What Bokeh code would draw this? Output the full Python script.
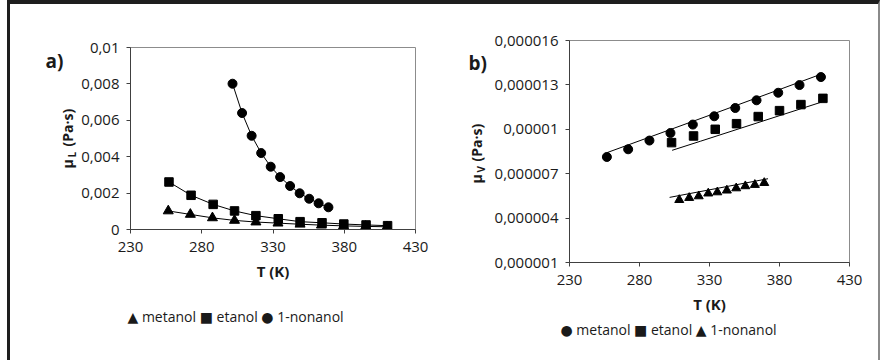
import math
from bokeh.plotting import figure
from bokeh.layouts import row, column
from bokeh.models import Label, FixedTicker, Range1d, Title
from bokeh.embed import file_html
from bokeh.resources import INLINE

# ---------------- data ----------------
x_ticks = [230, 280, 330, 380, 430]

# (a) liquid viscosity
T_me_L = [256.5, 272, 287.5, 303, 318, 333.5, 349, 364, 379.5, 395, 410]
mu_me_L = [0.00102, 0.00083, 0.00064, 0.00050, 0.00041, 0.00035, 0.00029, 0.00024, 0.00020, 0.00017, 0.00015]
T_et_L = [257, 272.5, 288, 303, 318, 333.7, 349, 364.4, 379.7, 395.3, 410.4]
mu_et_L = [0.00261, 0.00188, 0.00138, 0.00102, 0.00076, 0.00059, 0.00043, 0.00037, 0.00030, 0.00025, 0.00021]
T_no_L = [301.6, 308.3, 315, 321.7, 328.4, 335, 342, 348.7, 355.4, 362, 368.9]
mu_no_L = [0.00801, 0.0064, 0.00515, 0.0042, 0.00345, 0.00288, 0.00239, 0.00199, 0.00169, 0.00144, 0.00122]
yticks_L = [0, 0.002, 0.004, 0.006, 0.008, 0.01]
ylabels_L = ["0", "0,002", "0,004", "0,006", "0,008", "0,01"]
legend_L = [("▲", "metanol"), ("■", "etanol"), ("●", "1-nonanol")]

# (b) vapour viscosity
T_me_V = [256.7, 271.9, 287.1, 302.1, 318.1, 333.4, 348.4, 363.6, 379.1, 394.3, 409.6]
mu_me_V = [8.13e-6, 8.65e-6, 9.24e-6, 9.75e-6, 10.32e-6, 10.88e-6, 11.44e-6, 11.96e-6, 12.47e-6, 12.99e-6, 13.53e-6]
T_et_V = [302.9, 318.6, 334.1, 349.3, 364.8, 380, 395.3, 411]
mu_et_V = [9.10e-6, 9.55e-6, 10.0e-6, 10.38e-6, 10.86e-6, 11.26e-6, 11.67e-6, 12.09e-6]
T_no_V = [308.4, 315.5, 322.3, 329.1, 335.6, 342.4, 349.1, 355.6, 362.4, 369.1]
mu_no_V = [5.23e-6, 5.37e-6, 5.48e-6, 5.67e-6, 5.75e-6, 5.87e-6, 6.02e-6, 6.16e-6, 6.25e-6, 6.38e-6]
# model lines
T_me_fit = [256.7, 333.0, 409.6]
mu_me_fit = [8.42e-6, 11.05e-6, 13.72e-6]
T_et_fit = [303.3, 323.4, 410.4]
mu_et_fit = [8.58e-6, 9.19e-6, 11.85e-6]
T_no_fit = [301.5, 371.8]
mu_no_fit = [5.40e-6, 6.66e-6]
yticks_V = [1e-6, 4e-6, 7e-6, 1e-5, 1.3e-5, 1.6e-5]
ylabels_V = ["0,000001", "0,000004", "0,000007", "0,00001", "0,000013", "0,000016"]
legend_V = [("●", "metanol"), ("■", "etanol"), ("▲", "1-nonanol")]

FONT = "Open Sans"
INK = "#1a1a1a"
OX, OY = 10, 4      # page position of the content box (inside the frame border)
H = 356


def chart(w, h, bl, br, bt, bb, yr, yticks, ylabels):
    p = figure(width=w, height=h, output_backend="svg", toolbar_location=None,
               x_range=Range1d(230, 430), y_range=Range1d(*yr),
               min_border_left=bl, min_border_right=br, min_border_top=bt, min_border_bottom=bb)
    p.xgrid.visible = False
    p.ygrid.visible = False
    p.outline_line_color = "#8c8c8c"
    p.outline_line_width = 1
    p.border_fill_color = "white"
    for ax in (p.xaxis[0], p.yaxis[0]):
        ax.axis_line_color = "#404040"
        ax.major_tick_line_color = "#404040"
        ax.major_tick_out = 4
        ax.major_tick_in = 0
        ax.minor_tick_line_color = None
        ax.major_label_text_font = FONT
        ax.major_label_text_font_size = "15px"
        ax.major_label_text_color = INK
    p.xaxis.ticker = FixedTicker(ticks=x_ticks)
    p.xaxis.major_label_standoff = 8
    p.xaxis.axis_label = "T (K)"
    p.xaxis.axis_label_text_font = FONT
    p.xaxis.axis_label_text_font_style = "bold"
    p.xaxis.axis_label_text_font_size = "15px"
    p.xaxis.axis_label_text_color = INK
    p.xaxis.axis_label_standoff = 6
    p.yaxis.ticker = FixedTicker(ticks=yticks)
    p.yaxis.major_label_overrides = {t: l for t, l in zip(yticks, ylabels)}
    p.yaxis.major_label_standoff = 7
    return p


def pane(x0, y0, w, h):
    """A figure without axes whose frame fills its canvas; data units = page pixels."""
    p = figure(width=w, height=h, output_backend="svg", toolbar_location=None,
               x_range=Range1d(x0, x0 + w), y_range=Range1d(y0 + h, y0),
               x_axis_location=None, y_axis_location=None,
               min_border_left=0, min_border_right=0, min_border_top=0, min_border_bottom=0)
    p.xgrid.visible = False
    p.ygrid.visible = False
    p.outline_line_color = None
    p.border_fill_color = "white"
    return p


def txt(p, x, y, text, size, bold=False, align="left", angle=0.0):
    p.add_layout(Label(x=x, y=y, text=text, text_font=FONT, text_font_size=size,
                       text_font_style="bold" if bold else "normal", text_color=INK,
                       text_align=align, text_baseline="middle", angle=angle))


def legend_title(p, items, offset, standoff):
    text = "    ".join(f"{s} {n}" for s, n in items)
    p.add_layout(Title(text=text, align="left", offset=offset, standoff=standoff,
                       text_font=FONT + ", DejaVu Sans", text_font_size="14px",
                       text_font_style="normal", text_color=INK), "below")


# ---------------- panel a ----------------
SA_W = 68
PA_X = OX + SA_W                      # 78
PA_W = 441 - PA_X                     # 363
side_a = pane(OX, OY, SA_W, H)
txt(side_a, 45, 60, "a)", "19px", bold=True)
txt(side_a, 67, 168, "μ", "14px", bold=True, angle=math.pi / 2)
txt(side_a, 71.5, 157, "L", "10px", bold=True, angle=math.pi / 2)
txt(side_a, 67, 146, "(Pa·s)", "14px", bold=True, angle=math.pi / 2)

pa = chart(PA_W, H, 50, 26, 43, 131, (0, 0.01), yticks_L, ylabels_L)
pa.line(T_me_L, mu_me_L, line_color="black", line_width=1)
pa.line(T_et_L, mu_et_L, line_color="black", line_width=1)
pa.line(T_no_L, mu_no_L, line_color="black", line_width=1)
pa.scatter(T_me_L, mu_me_L, marker="triangle", size=10, color="black")
pa.scatter(T_et_L, mu_et_L, marker="square", size=8.5, color="black")
pa.scatter(T_no_L, mu_no_L, marker="circle", size=9, color="black")
legend_title(pa, legend_L, -3, 42)

# ---------------- panel b ----------------
SB_X = 441
SB_W = 49
PB_X = SB_X + SB_W                    # 490
PB_W = 878 - PB_X                     # 388
side_b = pane(SB_X, OY, SB_W, H)
txt(side_b, 468, 62, "b)", "19px", bold=True)
txt(side_b, 476, 183, "μ", "14px", bold=True, angle=math.pi / 2)
txt(side_b, 480.5, 172, "V", "10px", bold=True, angle=math.pi / 2)
txt(side_b, 476, 161, "(Pa·s)", "14px", bold=True, angle=math.pi / 2)

pb = chart(PB_W, H, 79, 29, 36, 98, (1e-6, 1.6e-5), yticks_V, ylabels_V)
pb.line(T_me_fit, mu_me_fit, line_color="black", line_width=1)
pb.line(T_et_fit, mu_et_fit, line_color="black", line_width=1)
pb.line(T_no_fit, mu_no_fit, line_color="black", line_width=1)
pb.scatter(T_me_V, mu_me_V, marker="circle", size=9, color="black")
pb.scatter(T_et_V, mu_et_V, marker="square", size=8.5, color="black")
pb.scatter(T_no_V, mu_no_V, marker="triangle", size=9, color="black")
legend_title(pb, legend_V, -9, 2)

layout = row(side_a, column(pa), side_b, column(pb),
             margin=(0, 0, 0, 7),
             styles={"border-top": "4px solid #1e1e1e",
                     "border-left": "3px solid #1e1e1e",
                     "border-right": "2px solid #8a8a8a"})

open("out.html", "w").write(file_html(layout, INLINE))
